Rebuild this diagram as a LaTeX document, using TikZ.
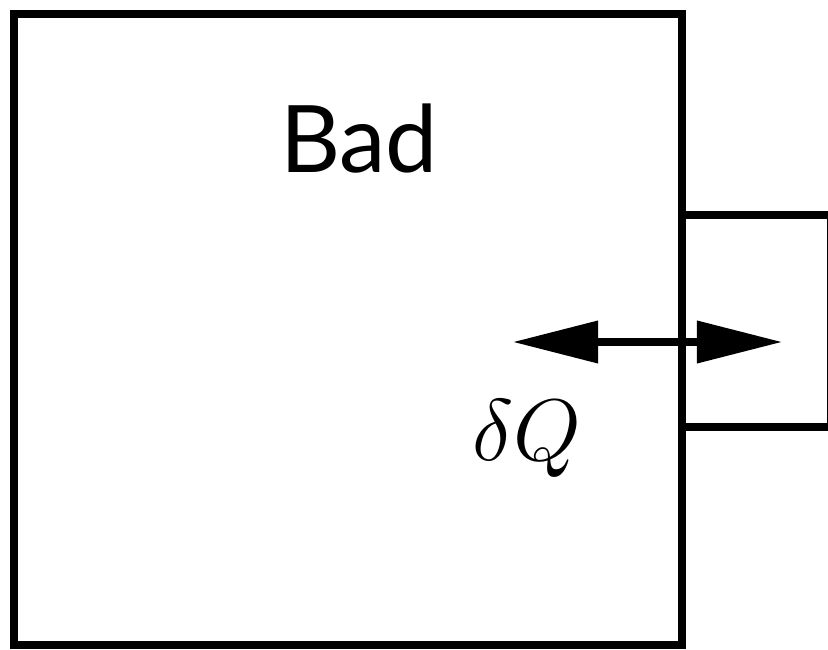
\documentclass[tikz,border=0pt]{standalone}
\usepackage{fontspec}
\newfontfamily\labelfont{Lato}
\usetikzlibrary{arrows.meta}
\tikzset{
  wall/.style={draw=black, line width=0.08cm, line join=miter},
  flux/.style={draw=black, line width=0.07cm,
    {Triangle[length=0.85cm,width=0.41cm]}-{Triangle[length=0.85cm,width=0.41cm]}},
}
\begin{document}
\begin{tikzpicture}[x=0.01cm, y=-0.01cm]
  \useasboundingbox (0,0) rectangle (828,649);
  \clip (0,0) rectangle (828,649);
  % reservoir (small box) attached to the right wall
  \draw[wall] (682,215) rectangle (830.5,427);
  % system boundary
  \draw[wall, fill=none] (14,14) rectangle (682,645);
  \node[inner sep=0, anchor=base, font=\labelfont\fontsize{26.5}{32}\selectfont] (bad) at (359,173) {Bad};
  % heat exchange through the wall
  \coordinate (fluxL) at (513,342);
  \coordinate (fluxR) at (782,342);
  \draw[flux] (fluxL) -- (fluxR);
  \node[inner sep=0, anchor=base west, font=\fontsize{26}{30}\selectfont] (dq) at (472,460) {$\delta Q$};
\end{tikzpicture}
\end{document}
